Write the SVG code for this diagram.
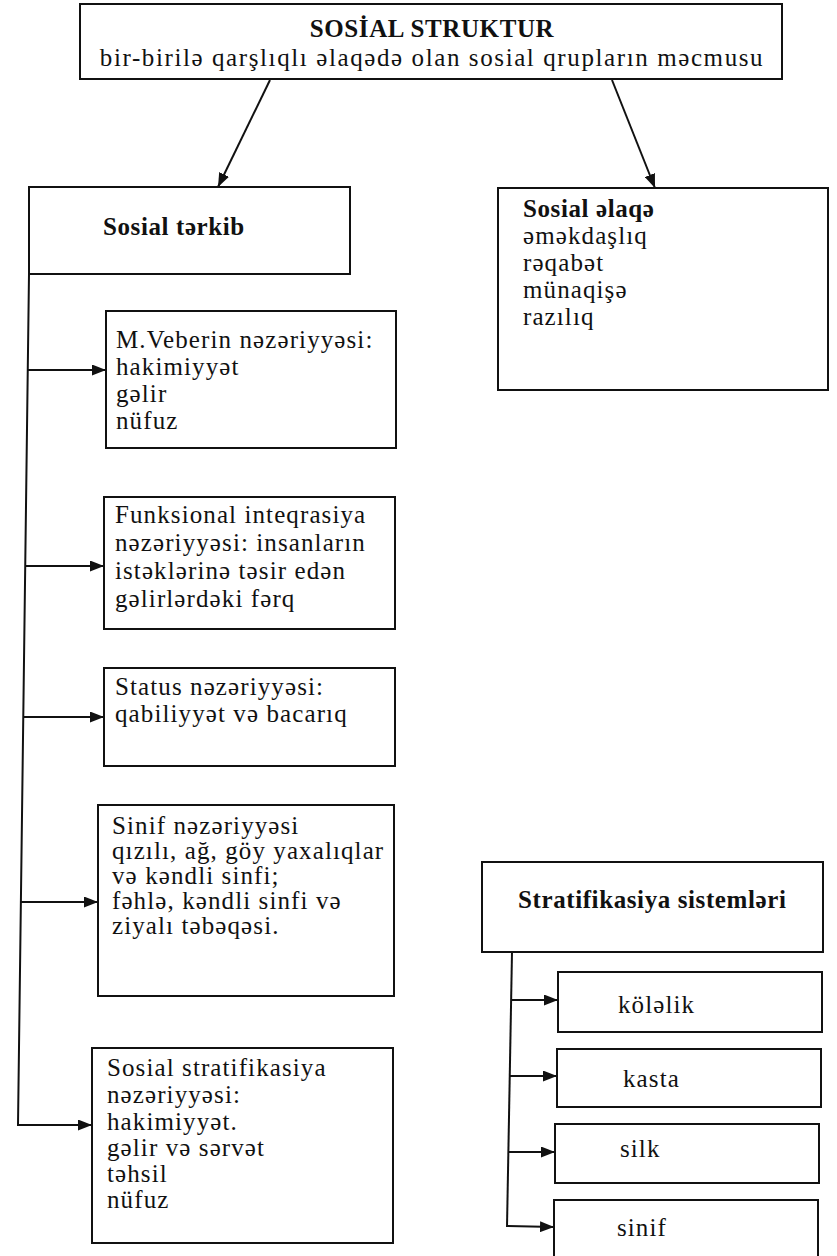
<svg xmlns="http://www.w3.org/2000/svg" width="837" height="1256" viewBox="0 0 837 1256">
<defs>
<marker id="ah" markerWidth="14" markerHeight="11" refX="14" refY="5.5" orient="auto" markerUnits="userSpaceOnUse"><path d="M0,0 L14,5.5 L0,11 z" fill="#111"/></marker>
<style>
.box{fill:#fff;stroke:#111;stroke-width:2}
.t{font-family:"Liberation Serif","DejaVu Serif","Times New Roman",serif;font-size:25px;letter-spacing:1.1px;fill:#111}
.b{font-weight:bold;font-size:25px;letter-spacing:0.6px}
.c{stroke:#111;stroke-width:2;fill:none}
</style>
</defs>
<rect width="837" height="1256" fill="#fff"/>
<g id="connectors">
<line class="c" x1="270" y1="80" x2="218" y2="187" marker-end="url(#ah)"/>
<line class="c" x1="612" y1="80" x2="655" y2="188" marker-end="url(#ah)"/>
<polyline class="c" points="29,274 18,1125 92,1125" marker-end="url(#ah)"/>
<line class="c" x1="27.7" y1="370" x2="106" y2="370" marker-end="url(#ah)"/>
<line class="c" x1="25.2" y1="566" x2="104" y2="566" marker-end="url(#ah)"/>
<line class="c" x1="23.3" y1="717" x2="104" y2="717" marker-end="url(#ah)"/>
<line class="c" x1="20.9" y1="902" x2="98" y2="902" marker-end="url(#ah)"/>
<line class="c" x1="512" y1="952" x2="507" y2="1227"/>
<line class="c" x1="511" y1="1000" x2="558" y2="1000" marker-end="url(#ah)"/>
<line class="c" x1="509.6" y1="1076" x2="557" y2="1076" marker-end="url(#ah)"/>
<line class="c" x1="508.2" y1="1152" x2="555" y2="1152" marker-end="url(#ah)"/>
<polyline class="c" points="507,1226 554,1227" marker-end="url(#ah)"/>
</g>
<g id="sosial-struktur">
<rect class="box" x="80" y="4" width="702" height="75"/>
<text class="t b" x="432" y="37" text-anchor="middle">SOSİAL STRUKTUR</text>
<text class="t" x="432" y="66" text-anchor="middle" style="letter-spacing:1.6px">bir-birilə qarşlıqlı əlaqədə olan sosial qrupların məcmusu</text>
</g>
<g id="sosial-terkib">
<rect class="box" x="29" y="187" width="321" height="87"/>
<text class="t b" x="103" y="235">Sosial tərkib</text>
</g>
<g id="sosial-elaqe">
<rect class="box" x="498" y="188" width="330" height="202"/>
<text class="t b" x="523" y="217">Sosial əlaqə</text>
<text class="t" x="523" y="244">əməkdaşlıq</text>
<text class="t" x="523" y="271">rəqabət</text>
<text class="t" x="523" y="298">münaqişə</text>
<text class="t" x="523" y="325">razılıq</text>
</g>
<g id="veber">
<rect class="box" x="106" y="311" width="290" height="137"/>
<text class="t" x="116" y="348">M.Veberin nəzəriyyəsi:</text>
<text class="t" x="116" y="375">hakimiyyət</text>
<text class="t" x="116" y="402">gəlir</text>
<text class="t" x="116" y="429">nüfuz</text>
</g>
<g id="funksional">
<rect class="box" x="104" y="497" width="291" height="132"/>
<text class="t" x="115" y="523">Funksional inteqrasiya</text>
<text class="t" x="115" y="551">nəzəriyyəsi: insanların</text>
<text class="t" x="115" y="579">istəklərinə təsir edən</text>
<text class="t" x="115" y="607">gəlirlərdəki fərq</text>
</g>
<g id="status">
<rect class="box" x="104" y="668" width="291" height="98"/>
<text class="t" x="115" y="695">Status nəzəriyyəsi:</text>
<text class="t" x="115" y="722">qabiliyyət və bacarıq</text>
</g>
<g id="sinif-nezeriyyesi">
<rect class="box" x="98" y="805" width="296" height="191"/>
<text class="t" x="112" y="834">Sinif nəzəriyyəsi</text>
<text class="t" x="112" y="859">qızılı, ağ, göy yaxalıqlar</text>
<text class="t" x="112" y="884">və kəndli sinfi;</text>
<text class="t" x="112" y="909">fəhlə, kəndli sinfi və</text>
<text class="t" x="112" y="934">ziyalı təbəqəsi.</text>
</g>
<g id="sosial-stratifikasiya">
<rect class="box" x="92" y="1048" width="301" height="195"/>
<text class="t" x="107" y="1076">Sosial stratifikasiya</text>
<text class="t" x="107" y="1103">nəzəriyyəsi:</text>
<text class="t" x="107" y="1130">hakimiyyət.</text>
<text class="t" x="107" y="1156">gəlir və sərvət</text>
<text class="t" x="107" y="1182">təhsil</text>
<text class="t" x="107" y="1208">nüfuz</text>
</g>
<g id="stratifikasiya-sistemleri">
<rect class="box" x="482" y="862" width="341" height="90"/>
<text class="t b" x="518" y="908">Stratifikasiya sistemləri</text>
</g>
<g id="kolelik">
<rect class="box" x="558" y="972" width="264" height="60"/>
<text class="t" x="618" y="1013">köləlik</text>
</g>
<g id="kasta">
<rect class="box" x="557" y="1049" width="264" height="58"/>
<text class="t" x="623" y="1087">kasta</text>
</g>
<g id="silk">
<rect class="box" x="555" y="1124" width="264" height="59"/>
<text class="t" x="620" y="1157">silk</text>
</g>
<g id="sinif">
<rect class="box" x="554" y="1200" width="264" height="62"/>
<text class="t" x="617" y="1236">sinif</text>
</g>
</svg>
